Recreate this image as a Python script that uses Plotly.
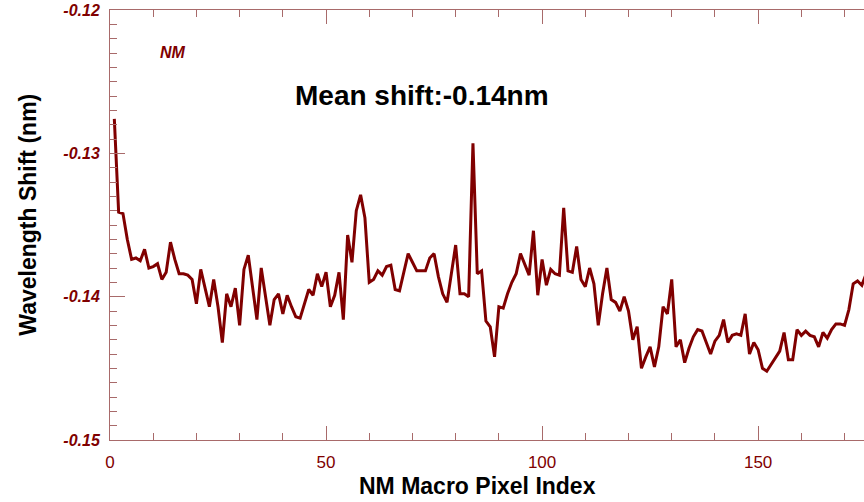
import plotly.graph_objects as go

# ---- data ----
pixel_index = list(range(1, 176))
wavelength_shift = [
    -0.1276, -0.1341, -0.1342, -0.1360, -0.1374, -0.1373, -0.1375, -0.1367, -0.1380, -0.1379,
    -0.1377, -0.1388, -0.1383, -0.1362, -0.1374, -0.1384, -0.1384, -0.1385, -0.1388, -0.1405,
    -0.1381, -0.1393, -0.1407, -0.1388, -0.1407, -0.1432, -0.1398, -0.1407, -0.1394, -0.1420,
    -0.1381, -0.1371, -0.1393, -0.1416, -0.1380, -0.1400, -0.1420, -0.1402, -0.1398, -0.1412,
    -0.1399, -0.1407, -0.1414, -0.1415, -0.1405, -0.1395, -0.1399, -0.1384, -0.1393, -0.1383,
    -0.1407, -0.1399, -0.1383, -0.1416, -0.1357, -0.1376, -0.1340, -0.1329, -0.1345, -0.1390,
    -0.1388, -0.1382, -0.1385, -0.1379, -0.1378, -0.1395, -0.1396, -0.1383, -0.1370, -0.1376,
    -0.1382, -0.1382, -0.1382, -0.1373, -0.1370, -0.1386, -0.1398, -0.1404, -0.1384, -0.1364,
    -0.1398, -0.1398, -0.1400, -0.1293, -0.1384, -0.1382, -0.1417, -0.1421, -0.1442, -0.1407,
    -0.1408, -0.1398, -0.1390, -0.1384, -0.1370, -0.1378, -0.1385, -0.1354, -0.1399, -0.1374,
    -0.1392, -0.1381, -0.1384, -0.1385, -0.1338, -0.1382, -0.1383, -0.1365, -0.1388, -0.1393,
    -0.1380, -0.1391, -0.1420, -0.1398, -0.1380, -0.1402, -0.1404, -0.1410, -0.1400, -0.1410,
    -0.1430, -0.1421, -0.1450, -0.1442, -0.1435, -0.1449, -0.1435, -0.1407, -0.1412, -0.1388,
    -0.1435, -0.1430, -0.1446, -0.1436, -0.1428, -0.1423, -0.1424, -0.1432, -0.1440, -0.1431,
    -0.1427, -0.1416, -0.1432, -0.1427, -0.1426, -0.1427, -0.1412, -0.1440, -0.1432, -0.1437,
    -0.1450, -0.1452, -0.1447, -0.1442, -0.1438, -0.1425, -0.1444, -0.1444, -0.1423, -0.1427,
    -0.1424, -0.1427, -0.1428, -0.1435, -0.1425, -0.1429, -0.1423, -0.1419, -0.1419, -0.1420,
    -0.1409, -0.1391, -0.1389, -0.1392, -0.1384,
]
x_tick_vals = [0, 50, 100, 150]
x_tick_text = ["0", "50", "100", "150"]
y_tick_vals = [-0.15, -0.14, -0.13, -0.12]
y_tick_text = ["-0.15", "-0.14", "-0.13", "-0.12"]
mean_label = "Mean shift:-0.14nm"
legend_label = "NM"
x_title = "NM Macro Pixel Index"
y_title = "Wavelength Shift (nm)"

LINE = "#800000"
AXIS = "#a86a6a"
FONT = "Liberation Sans, Arial, sans-serif"

fig = go.Figure()
fig.add_trace(go.Scatter(
    x=pixel_index, y=wavelength_shift, mode="lines",
    line=dict(color=LINE, width=3), showlegend=False,
))

def note(text, x, y, size, color, angle=0, italic=False):
    f = dict(family=FONT, size=size, color=color, weight="bold")
    if italic:
        f["style"] = "italic"
    return dict(text=text, xref="paper", yref="paper", x=x, y=y,
                xanchor="center", yanchor="middle", textangle=angle,
                showarrow=False, font=f)

fig.update_layout(
    width=864, height=502,
    margin=dict(l=110, r=0, t=10, b=62),
    paper_bgcolor="white", plot_bgcolor="white",
    font=dict(family=FONT),
    xaxis=dict(
        range=[0, 174.5], showgrid=False, zeroline=False,
        showline=True, linecolor=AXIS, linewidth=1, mirror="allticks",
        ticks="inside", ticklen=14, tickcolor=AXIS, tickwidth=1,
        tickvals=x_tick_vals, ticktext=x_tick_text,
        tickfont=dict(family=FONT, size=17, color=LINE),
        ticklabelstandoff=7,
        minor=dict(dtick=10, ticks="inside", ticklen=7, tickcolor=AXIS, tickwidth=1, showgrid=False),
    ),
    yaxis=dict(
        range=[-0.15, -0.12], showgrid=False, zeroline=False,
        showline=True, linecolor=AXIS, linewidth=1,
        ticks="inside", ticklen=15, tickcolor=AXIS, tickwidth=1,
        tickvals=y_tick_vals, ticktext=y_tick_text,
        tickfont=dict(family=FONT, size=16, color=LINE, weight="bold", style="italic"),
        ticklabelstandoff=6,
        minor=dict(dtick=0.001, ticks="inside", ticklen=7, tickcolor=AXIS, tickwidth=1, showgrid=False),
    ),
    annotations=[
        note(mean_label, 0.414, 0.80, 28, "black"),
        note(legend_label, 0.0836, 0.902, 16, LINE, italic=True),
        note(x_title, 0.488, -0.107, 23, "black"),
        note(y_title, -0.108, 0.523, 23, "black", angle=-90),
    ],
)

fig.write_html("out.html")
